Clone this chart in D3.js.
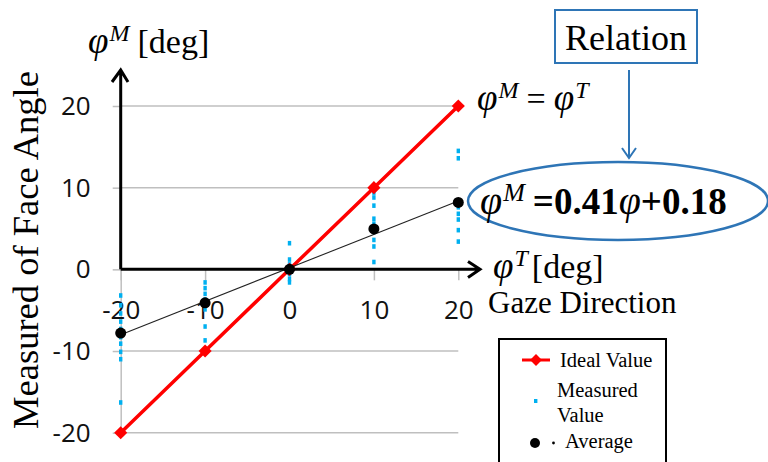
<!DOCTYPE html>
<html><head><meta charset="utf-8">
<script src="https://cdn.jsdelivr.net/npm/d3@7"></script>
<style>body{margin:0;background:#fff}svg{display:block}</style>
</head><body>
<svg id="c" width="768" height="462"></svg>
<script>
const gazeAngles = [-20, -10, 0, 10, 20];
const idealValues = [-20, -10, 0, 10, 20];
const averageValues = [-7.8, -4.1, 0, 4.95, 8.2];
const measuredValues = [
  [-3.2, -4.4, -5.4, -6.4, -7.3, -8.3, -9.1, -10.1, -11.0, -16.3],
  [-1.6, -2.3, -3.0, -3.7, -4.9, -7.0, -8.7],
  [3.2, 1.2, 0.6, 0.1, -0.6, -1.2, -1.6],
  [9.4, 8.8, 7.8, 6.2, 5.6, 4.6, 3.6, 2.8, 0.9],
  [14.5, 13.6, 7.6, 6.8, 6.1, 4.8, 3.4]
];
const trendSlope = 0.41, trendIntercept = 0.18;
const xTicks = [-20, -10, 0, 10, 20];
const yTicks = [-20, -10, 0, 10, 20];
const legendLabels = ["Ideal Value", "Measured", "Value", "Average"];

const svg = d3.select("#c");
const x = d3.scaleLinear().domain([-20, 20]).range([120.7, 458.3]);
const y = d3.scaleLinear().domain([-20, 20]).range([432.7, 106]);
const blue = "#2E75B6", sky = "#00B0F0", grid = "#BFBFBF";
const serif = "'Liberation Serif','Times New Roman',serif";

// gridlines
svg.append("g").selectAll("line").data(yTicks.filter(d => d !== 0)).join("line")
  .attr("x1", x(-20)).attr("x2", x(20)).attr("y1", d => y(d)).attr("y2", d => y(d))
  .attr("stroke", grid).attr("stroke-width", 1.5);

// axes (gray, with labels)
const yAxis = svg.append("g").attr("transform", `translate(${x(-20)},0)`)
  .call(d3.axisLeft(y).tickValues(yTicks).tickSize(8).tickSizeOuter(0).tickPadding(22).tickFormat(d => String(d)));
yAxis.select(".domain").attr("stroke", grid).attr("stroke-width", 1.5);
yAxis.selectAll(".tick line").attr("stroke", grid).attr("stroke-width", 1.5);
yAxis.selectAll("text").attr("font-family", "'Open Sans',sans-serif").attr("font-size", 26).attr("fill", "#111");

const xAxis = svg.append("g").attr("transform", `translate(0,${y(0)})`)
  .call(d3.axisBottom(x).tickValues(xTicks).tickSize(11).tickSizeOuter(0).tickPadding(20).tickFormat(d => String(d)));
xAxis.select(".domain").remove();
xAxis.selectAll(".tick line").attr("stroke", grid).attr("stroke-width", 1.5);
xAxis.selectAll("text").attr("font-family", "'Open Sans',sans-serif").attr("font-size", 26).attr("fill", "#111");

// measured points
const mp = [];
gazeAngles.forEach((g, i) => measuredValues[i].forEach(v => mp.push([g, v])));
svg.append("g").selectAll("rect").data(mp).join("rect")
  .attr("x", d => x(d[0]) - 1.7).attr("y", d => y(d[1]) - 2.3).attr("width", 3.4).attr("height", 4.6)
  .attr("fill", sky);

// ideal line
const ideal = gazeAngles.map((g, i) => [g, idealValues[i]]);
svg.append("path").datum(ideal).attr("d", d3.line().x(d => x(d[0])).y(d => y(d[1])))
  .attr("fill", "none").attr("stroke", "#FF0000").attr("stroke-width", 3.5);
svg.append("g").selectAll("path").data(ideal).join("path")
  .attr("d", d3.symbol(d3.symbolDiamond2, 110))
  .attr("transform", d => `translate(${x(d[0])},${y(d[1])})`)
  .attr("fill", "#FF0000");

// trend line
svg.append("line")
  .attr("x1", x(-20)).attr("y1", y(trendSlope * -20 + trendIntercept))
  .attr("x2", x(20)).attr("y2", y(trendSlope * 20 + trendIntercept))
  .attr("stroke", "#222").attr("stroke-width", 1.1);

// averages
svg.append("g").selectAll("circle").data(gazeAngles.map((g, i) => [g, averageValues[i]])).join("circle")
  .attr("cx", d => x(d[0])).attr("cy", d => y(d[1])).attr("r", 5.5).attr("fill", "#000");

// black arrow axes
svg.append("path").attr("d", `M${x(-20)},${y(0)} V70 M112,82 L${x(-20)},70 L128,82`)
  .attr("fill", "none").attr("stroke", "#000").attr("stroke-width", 3).attr("stroke-linejoin", "miter");
svg.append("path").attr("d", `M${x(-20)},${y(0)} H480 M468,261.5 L480,${y(0)} L468,277.5`)
  .attr("fill", "none").attr("stroke", "#000").attr("stroke-width", 3);

// labels
function label(px, py, size, bold) {
  return svg.append("text").attr("x", px).attr("y", py).attr("font-family", serif)
    .attr("font-size", size).attr("fill", "#000").attr("font-weight", bold ? "bold" : "normal");
}
function phi(t, sup, size, supSize, rise) {
  t.append("tspan").attr("font-style", "italic").attr("font-weight", "normal").attr("font-size", size).text("φ");
  t.append("tspan").attr("font-style", "italic").attr("font-weight", "normal").attr("font-size", supSize)
    .attr("dy", -rise).attr("dx", 1).text(sup);
}
let t = label(88, 53, 34);
phi(t, "M", 37, 24, 12);
t.append("tspan").attr("dy", 12).attr("dx", 8).text("[deg]");

t = label(493, 278, 34);
phi(t, "T", 37, 24, 12);
t.append("tspan").attr("dy", 12).attr("dx", 4).text("[deg]");

svg.append("text").attr("x", 488).attr("y", 313).attr("font-family", serif).attr("font-size", 31)
  .text("Gaze Direction");

t = label(477, 110, 34);
phi(t, "M", 37, 24, 12);
t.append("tspan").attr("dy", 12).attr("dx", 8).text("=");
t.append("tspan").attr("dx", 8).attr("font-style", "italic").attr("font-size", 37).text("φ");
t.append("tspan").attr("font-style", "italic").attr("font-size", 24).attr("dy", -12).attr("dx", 1).text("T");

svg.append("text").attr("transform", "translate(38,250) rotate(-90)").attr("text-anchor", "middle")
  .attr("font-family", serif).attr("font-size", 36.5).text("Measured of Face Angle");

// relation box & arrow
svg.append("rect").attr("x", 555).attr("y", 10).attr("width", 142).attr("height", 53)
  .attr("fill", "none").attr("stroke", blue).attr("stroke-width", 2);
svg.append("text").attr("x", 626).attr("y", 50).attr("text-anchor", "middle").attr("font-family", serif)
  .attr("font-size", 36).text("Relation");
svg.append("path").attr("d", "M629,70 V158 M622,148 L629,158 L636,148")
  .attr("fill", "none").attr("stroke", blue).attr("stroke-width", 2);

svg.append("ellipse").attr("cx", 618).attr("cy", 201).attr("rx", 150).attr("ry", 39)
  .attr("fill", "none").attr("stroke", blue).attr("stroke-width", 2.5);
t = label(480, 214, 37, true);
phi(t, "M", 40, 26, 13);
t.append("tspan").attr("dy", 13).attr("dx", 8).text("=0.41");
t.append("tspan").attr("font-style", "italic").attr("font-weight", "normal").attr("font-size", 40).text("φ");
t.append("tspan").text("+0.18");

// legend
const lg = svg.append("g");
lg.append("rect").attr("x", 499).attr("y", 339).attr("width", 167).attr("height", 140)
  .attr("fill", "#fff").attr("stroke", "#000").attr("stroke-width", 2);
lg.append("line").attr("x1", 522).attr("x2", 550).attr("y1", 360).attr("y2", 360)
  .attr("stroke", "#FF0000").attr("stroke-width", 3);
lg.append("path").attr("d", d3.symbol(d3.symbolDiamond2, 90)).attr("transform", "translate(536,360)")
  .attr("fill", "#FF0000");
lg.append("text").attr("x", 560).attr("y", 367).attr("font-family", serif).attr("font-size", 20.5).text(legendLabels[0]);
lg.append("rect").attr("x", 534).attr("y", 399).attr("width", 3.4).attr("height", 4).attr("fill", sky);
lg.append("text").attr("x", 557).attr("y", 397).attr("font-family", serif).attr("font-size", 20.5).text(legendLabels[1]);
lg.append("text").attr("x", 557).attr("y", 422).attr("font-family", serif).attr("font-size", 20.5).text(legendLabels[2]);
lg.append("circle").attr("cx", 535).attr("cy", 443).attr("r", 5).attr("fill", "#000");
lg.append("circle").attr("cx", 553.5).attr("cy", 443).attr("r", 1.4).attr("fill", "#000");
lg.append("text").attr("x", 565).attr("y", 448).attr("font-family", serif).attr("font-size", 20.5).text(legendLabels[3]);
</script>
</body></html>
